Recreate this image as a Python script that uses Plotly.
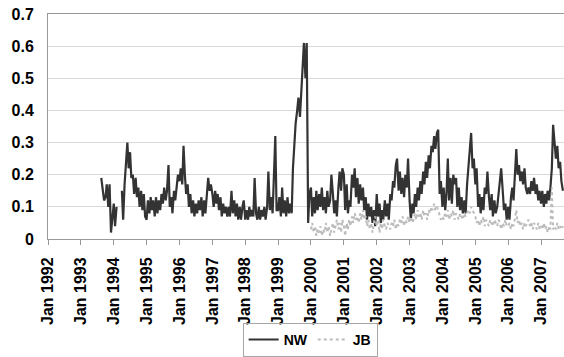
import pandas as pd
import plotly.graph_objects as go

# ---- data (semi-monthly readings: 1st and 15th of each month) ----
nw_start = "1993-08-15"
nw_1993 = [0.19, 0.15, 0.12, 0.13, 0.17, 0.10, 0.17, 0.02, 0.06]
nw_1994 = [0.11, 0.04, 0.10, None, None, None, 0.15, 0.06, 0.17, 0.23, 0.30, 0.22,
           0.27, 0.19, 0.20, 0.14, 0.19, 0.13, 0.16, 0.10, 0.15, 0.09, 0.14, 0.07]
nw_1995 = [0.06, 0.12, 0.08, 0.13, 0.09, 0.12, 0.07, 0.13, 0.08, 0.12, 0.09, 0.14,
           0.11, 0.16, 0.12, 0.15, 0.23, 0.10, 0.13, 0.08, 0.15, 0.12, 0.16, 0.20]
nw_1996 = [0.18, 0.22, 0.17, 0.29, 0.20, 0.14, 0.17, 0.10, 0.14, 0.08, 0.12, 0.07,
           0.11, 0.08, 0.12, 0.09, 0.13, 0.07, 0.12, 0.08, 0.14, 0.19, 0.15, 0.17]
nw_1997 = [0.14, 0.10, 0.15, 0.11, 0.14, 0.09, 0.13, 0.07, 0.11, 0.08, 0.10, 0.07,
           0.10, 0.07, 0.15, 0.08, 0.12, 0.07, 0.11, 0.06, 0.10, 0.06, 0.10, 0.12]
nw_1998 = [0.06, 0.09, 0.06, 0.10, 0.07, 0.09, 0.07, 0.19, 0.08, 0.06, 0.10, 0.06,
           0.09, 0.07, 0.10, 0.06, 0.10, 0.21, 0.09, 0.13, 0.08, 0.22, 0.32, 0.09]
nw_1999 = [0.09, 0.13, 0.07, 0.16, 0.08, 0.12, 0.07, 0.13, 0.08, 0.11, 0.08, 0.22,
           0.30, 0.36, 0.40, 0.44, 0.38, 0.46, 0.52, 0.61, 0.50, 0.61, 0.05, 0.14]
nw_2000 = [0.16, 0.07, 0.13, 0.08, 0.15, 0.09, 0.14, 0.10, 0.16, 0.09, 0.13, 0.08,
           0.15, 0.10, 0.12, 0.20, 0.14, 0.08, 0.12, 0.07, 0.16, 0.21, 0.15, 0.22]
nw_2001 = [0.20, 0.09, 0.17, 0.08, 0.12, 0.10, 0.20, 0.16, 0.22, 0.13, 0.19, 0.11,
           0.17, 0.12, 0.16, 0.09, 0.13, 0.06, 0.11, 0.07, 0.10, 0.05, 0.09, 0.04]
nw_2002 = [0.14, 0.07, 0.11, 0.05, 0.09, 0.06, 0.12, 0.07, 0.11, 0.06, 0.14, 0.12,
           0.18, 0.16, 0.23, 0.25, 0.15, 0.21, 0.14, 0.19, 0.13, 0.20, 0.16, 0.25]
nw_2003 = [0.12, 0.06, 0.11, 0.08, 0.14, 0.10, 0.16, 0.12, 0.18, 0.14, 0.21, 0.17,
           0.24, 0.19, 0.26, 0.22, 0.29, 0.27, 0.32, 0.28, 0.33, 0.34, 0.14, 0.18]
nw_2004 = [0.10, 0.16, 0.09, 0.14, 0.25, 0.12, 0.19, 0.11, 0.20, 0.17, 0.19, 0.10,
           0.16, 0.09, 0.13, 0.08, 0.12, 0.08, 0.17, 0.22, 0.27, 0.33, 0.22, 0.25]
nw_2005 = [0.17, 0.22, 0.10, 0.14, 0.08, 0.13, 0.09, 0.16, 0.14, 0.21, 0.13, 0.09,
           0.14, 0.07, 0.12, 0.08, 0.10, 0.14, 0.18, 0.22, 0.15, 0.09, 0.11, 0.06]
nw_2006 = [0.10, 0.06, 0.13, 0.16, 0.12, 0.20, 0.28, 0.20, 0.23, 0.18, 0.21, 0.17,
           0.22, 0.16, 0.14, 0.16, 0.14, 0.18, 0.15, 0.19, 0.14, 0.17, 0.12, 0.15]
nw_2007 = [0.11, 0.15, 0.10, 0.14, 0.11, 0.15, 0.12, 0.16, 0.22, 0.355, 0.28, 0.25,
           0.29, 0.22, 0.24, 0.18, 0.15]

jb_start = "2000-01-01"
jb_2000 = [0.03, 0.05, 0.02, 0.04, 0.01, 0.03, 0.02, 0.04, 0.01, 0.03, 0.02, 0.05,
           0.02, 0.04, 0.01, 0.03, 0.05, 0.02, 0.04, 0.06, 0.03, 0.05, 0.02, 0.06]
jb_2001 = [0.04, 0.01, 0.05, 0.03, 0.06, 0.04, 0.07, 0.05, 0.08, 0.06, 0.07, 0.05,
           0.08, 0.06, 0.09, 0.06, 0.07, 0.04, 0.06, 0.03, 0.05, 0.02, 0.05, 0.07]
jb_2002 = [0.04, 0.06, 0.02, 0.05, 0.03, 0.06, 0.04, 0.03, 0.05, 0.04, 0.03, 0.05,
           0.04, 0.06, 0.03, 0.05, 0.04, 0.06, 0.05, 0.07, 0.04, 0.06, 0.05, 0.07]
jb_2003 = [0.05, 0.07, 0.05, 0.06, 0.08, 0.06, 0.09, 0.07, 0.08, 0.06, 0.09, 0.07,
           0.08, 0.06, 0.09, 0.08, 0.10, 0.09, 0.11, 0.09, 0.10, 0.09, 0.07, 0.06]
jb_2004 = [0.07, 0.06, 0.08, 0.07, 0.09, 0.06, 0.08, 0.07, 0.09, 0.06, 0.08, 0.07,
           0.06, 0.08, 0.07, 0.06, 0.08, 0.07, 0.08, 0.09, 0.08, 0.10, 0.09, 0.08]
jb_2005 = [0.07, 0.05, 0.06, 0.04, 0.06, 0.05, 0.07, 0.04, 0.06, 0.05, 0.04, 0.06,
           0.05, 0.04, 0.06, 0.05, 0.04, 0.06, 0.05, 0.03, 0.05, 0.04, 0.06, 0.04]
jb_2006 = [0.04, 0.05, 0.03, 0.05, 0.04, 0.06, 0.09, 0.05, 0.06, 0.04, 0.05, 0.03,
           0.05, 0.04, 0.05, 0.06, 0.04, 0.05, 0.03, 0.05, 0.04, 0.03, 0.05, 0.03]
jb_2007 = [0.04, 0.03, 0.05, 0.03, 0.04, 0.02, 0.04, 0.03, 0.16, 0.03, 0.04, 0.03,
           0.05, 0.03, 0.04, 0.03, 0.04]

tick_years = list(range(1992, 2008))
tick_vals = [f"{y}-01-01" for y in tick_years]
tick_text = [f"Jan {y}" for y in tick_years]

# ---- build series ----
nw = (nw_1993 + nw_1994 + nw_1995 + nw_1996 + nw_1997 + nw_1998 + nw_1999 + nw_2000
      + nw_2001 + nw_2002 + nw_2003 + nw_2004 + nw_2005 + nw_2006 + nw_2007)
jb = jb_2000 + jb_2001 + jb_2002 + jb_2003 + jb_2004 + jb_2005 + jb_2006 + jb_2007
nw_dates = pd.date_range(nw_start, periods=len(nw), freq="SMS")
jb_dates = pd.date_range(jb_start, periods=len(jb), freq="SMS")

font_family = "Arial, Liberation Sans, Helvetica, sans-serif"

fig = go.Figure()
fig.add_trace(go.Scatter(x=nw_dates, y=nw, mode="lines", name="NW",
                         line=dict(color="#333333", width=2.2)))
fig.add_trace(go.Scatter(x=jb_dates, y=jb, mode="lines", name="JB",
                         line=dict(color="#bcbcbc", width=2, dash="3px,3px")))

fig.update_layout(
    width=564, height=357,
    margin=dict(l=48, r=0, t=14, b=118),
    plot_bgcolor="white", paper_bgcolor="white",
    font=dict(family=font_family, size=16, color="black"),
    legend=dict(orientation="h", x=0.508, xanchor="center", y=-0.524, yanchor="bottom",
                bordercolor="#a6a6a6", borderwidth=1, itemwidth=30,
                font=dict(size=14, weight="bold", family=font_family),
                bgcolor="rgba(255,255,255,0)"),
)
fig.update_xaxes(
    type="date", range=["1992-01-01", "2007-09-13"],
    tickmode="array", tickvals=tick_vals, ticktext=tick_text, tickangle=-90,
    ticks="outside", ticklen=5, tickcolor="#999999",
    showline=True, linecolor="#999999", linewidth=1, mirror=True,
    showgrid=False, zeroline=False,
    tickfont=dict(size=16, weight="bold", family=font_family, color="black"),
    ticklabelstandoff=6,
)
fig.update_yaxes(
    range=[0, 0.7], tick0=0, dtick=0.1,
    showgrid=True, gridcolor="#d9d9d9", gridwidth=1,
    showline=True, linecolor="#999999", linewidth=1,
    ticks="", zeroline=False,
    tickfont=dict(size=16, weight="bold", family=font_family, color="black"),
    ticklabelstandoff=10,
)

fig.write_html("out.html")
